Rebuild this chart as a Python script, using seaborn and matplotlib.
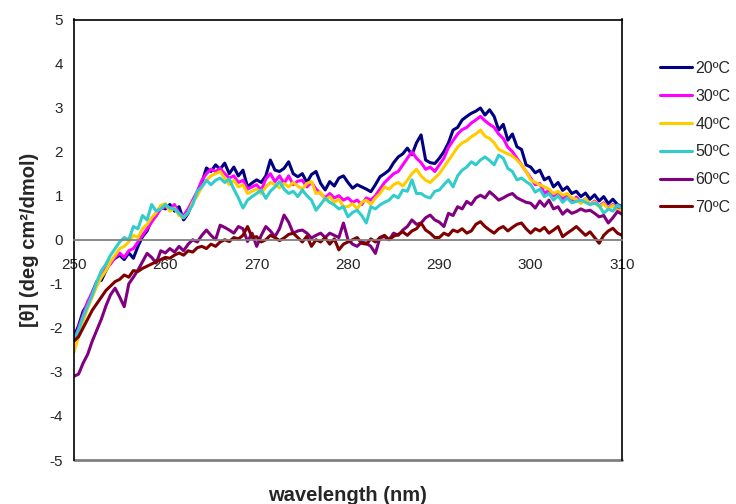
import numpy as np
import pandas as pd
import matplotlib
matplotlib.use("Agg")
import matplotlib.pyplot as plt
import seaborn as sns

# CD spectra: wavelength grid (nm), 0.5 nm steps
wavelength = np.arange(250.0, 310.01, 0.5)

temps = ["20ºC", "30ºC", "40ºC", "50ºC", "60ºC", "70ºC"]
colors = ["#000080", "#FF00FF", "#FFCC00", "#33CCCC", "#800080", "#800000"]

theta_20 = [
    -2.20, -1.95, -1.62, -1.45, -1.20, -0.95, -0.92, -0.70, -0.50, -0.42,
    -0.35, -0.45, -0.30, -0.42, -0.15, 0.07, 0.20, 0.45, 0.55, 0.75,
    0.70, 0.80, 0.65, 0.75, 0.45, 0.60, 0.85, 1.06, 1.30, 1.63,
    1.55, 1.70, 1.60, 1.74, 1.50, 1.65, 1.45, 1.58, 1.20, 1.29,
    1.36, 1.30, 1.45, 1.81, 1.58, 1.55, 1.62, 1.77, 1.50, 1.43,
    1.50, 1.30, 1.48, 1.55, 1.28, 1.13, 1.32, 1.22, 1.40, 1.45,
    1.30, 1.17, 1.25, 1.20, 1.15, 1.09, 1.25, 1.43, 1.50, 1.58,
    1.75, 1.88, 1.95, 2.08, 1.93, 2.20, 2.38, 1.81, 1.75, 1.73,
    1.85, 2.00, 2.20, 2.49, 2.55, 2.72, 2.80, 2.87, 2.92, 2.99,
    2.83, 2.95, 2.80, 2.49, 2.62, 2.26, 2.40, 2.11, 2.05, 1.70,
    1.65, 1.52, 1.58, 1.36, 1.42, 1.20, 1.30, 1.12, 1.20, 1.05,
    1.10, 0.98, 1.06, 0.92, 1.02, 0.88, 0.98, 0.82, 0.92, 0.80,
    0.75,
]
theta_30 = [
    -2.30, -2.00, -1.70, -1.40, -1.20, -0.95, -0.85, -0.65, -0.55, -0.40,
    -0.30, -0.40, -0.25, -0.20, -0.05, 0.10, 0.25, 0.40, 0.55, 0.70,
    0.75, 0.70, 0.80, 0.60, 0.55, 0.70, 0.90, 1.10, 1.35, 1.50,
    1.60, 1.55, 1.62, 1.50, 1.40, 1.45, 1.30, 1.35, 1.15, 1.20,
    1.25, 1.12, 1.38, 1.50, 1.32, 1.45, 1.28, 1.45, 1.25, 1.33,
    1.35, 1.20, 1.30, 1.15, 1.05, 0.95, 1.05, 0.95, 1.00, 0.90,
    0.95, 0.85, 0.90, 0.80, 0.95, 0.90, 1.00, 1.15, 1.30, 1.40,
    1.50, 1.55, 1.70, 1.85, 2.00, 1.85, 1.75, 1.60, 1.65, 1.55,
    1.70, 1.85, 2.10, 2.25, 2.40, 2.50, 2.55, 2.65, 2.72, 2.80,
    2.70, 2.62, 2.55, 2.40, 2.30, 2.10, 2.00, 1.85, 1.70, 1.55,
    1.40, 1.25, 1.28, 1.05, 1.12, 1.00, 1.08, 0.92, 1.00, 0.86,
    0.97, 0.85, 0.93, 0.80, 0.88, 0.76, 0.84, 0.72, 0.80, 0.70,
    0.70,
]
theta_40 = [
    -2.55, -2.20, -1.85, -1.55, -1.30, -1.05, -0.85, -0.70, -0.50, -0.35,
    -0.20, -0.15, -0.05, 0.10, 0.05, 0.25, 0.35, 0.50, 0.62, 0.78,
    0.82, 0.65, 0.72, 0.55, 0.50, 0.62, 0.85, 1.00, 1.20, 1.35,
    1.45, 1.50, 1.55, 1.40, 1.25, 1.35, 1.20, 1.25, 1.05, 1.10,
    1.15, 1.05, 1.20, 1.30, 1.25, 1.18, 1.28, 1.20, 1.30, 1.22,
    1.15, 1.28, 1.32, 1.05, 1.08, 0.90, 0.98, 0.85, 0.92, 0.75,
    0.75, 0.82, 0.70, 0.85, 0.90, 0.80, 0.95, 1.05, 1.20, 1.15,
    1.25, 1.30, 1.22, 1.35, 1.50, 1.60, 1.45, 1.35, 1.30, 1.40,
    1.50, 1.65, 1.80, 1.95, 2.10, 2.20, 2.25, 2.34, 2.40, 2.49,
    2.35, 2.30, 2.20, 2.05, 2.00, 1.95, 1.90, 1.81, 1.70, 1.55,
    1.36, 1.30, 1.25, 1.20, 1.15, 1.05, 1.10, 1.01, 1.05, 0.95,
    0.92, 0.82, 0.93, 0.80, 0.86, 0.74, 0.82, 0.70, 0.78, 0.66,
    0.68,
]
theta_50 = [
    -2.30, -2.05, -1.75, -1.50, -1.25, -0.95, -0.70, -0.55, -0.35, -0.20,
    -0.05, 0.05, 0.00, 0.30, 0.25, 0.55, 0.45, 0.80, 0.65, 0.70,
    0.80, 0.72, 0.70, 0.60, 0.50, 0.62, 0.80, 1.10, 1.20, 1.35,
    1.25, 1.35, 1.40, 1.30, 1.38, 1.15, 0.95, 0.72, 0.90, 0.98,
    1.05, 1.13, 0.94, 1.10, 1.20, 1.32, 1.15, 1.05, 1.10, 0.98,
    1.13, 1.00, 0.90, 0.67, 0.80, 0.94, 0.85, 0.79, 0.70, 0.75,
    0.52, 0.62, 0.67, 0.55, 0.38, 0.75, 0.70, 0.79, 0.85, 0.90,
    1.01, 0.95, 1.13, 1.10, 1.36, 1.05, 1.05, 0.98, 0.95, 1.10,
    1.13, 1.25, 1.36, 1.20, 1.45, 1.58, 1.65, 1.77, 1.70, 1.81,
    1.88, 1.80, 1.70, 1.92, 1.85, 1.62, 1.55, 1.36, 1.40, 1.32,
    1.25, 1.08, 1.15, 0.98, 1.05, 0.90, 1.00, 0.85, 0.95, 0.84,
    0.87, 0.90, 0.85, 0.80, 0.83, 0.78, 0.60, 0.70, 0.65, 0.79,
    0.72,
]
theta_60 = [
    -3.10, -3.05, -2.80, -2.60, -2.30, -2.05, -1.80, -1.50, -1.25, -1.10,
    -1.30, -1.52, -1.00, -0.85, -0.69, -0.50, -0.31, -0.40, -0.53, -0.25,
    -0.30, -0.20, -0.28, -0.15, -0.25, -0.10, 0.00, -0.05, 0.10, 0.22,
    0.10, 0.00, 0.33, 0.28, 0.22, 0.15, 0.30, 0.25, -0.04, 0.15,
    -0.15, 0.10, 0.30, 0.20, 0.07, 0.25, 0.56, 0.40, 0.15, 0.20,
    0.22, 0.15, 0.04, 0.10, 0.15, 0.05, 0.15, 0.10, 0.05, 0.38,
    0.00, -0.10, -0.15, -0.05, -0.08, -0.15, -0.31, 0.05, 0.07, 0.00,
    0.15, 0.10, 0.22, 0.30, 0.45, 0.35, 0.38, 0.50, 0.56, 0.45,
    0.40, 0.30, 0.60, 0.55, 0.75, 0.70, 0.87, 0.80, 0.95, 1.01,
    0.95, 1.09, 1.00, 0.90, 0.95, 1.01, 1.05, 0.95, 0.90, 0.85,
    0.83, 0.72, 0.88, 0.76, 0.90, 0.70, 0.75, 0.58, 0.68, 0.60,
    0.64, 0.70, 0.65, 0.67, 0.60, 0.52, 0.55, 0.38, 0.50, 0.64,
    0.58,
]
theta_70 = [
    -2.30, -2.20, -2.00, -1.80, -1.60, -1.45, -1.30, -1.15, -1.05, -0.95,
    -0.90, -0.80, -0.85, -0.70, -0.72, -0.65, -0.60, -0.55, -0.50, -0.45,
    -0.40, -0.42, -0.35, -0.30, -0.35, -0.25, -0.28, -0.18, -0.15, -0.20,
    -0.10, -0.15, -0.05, 0.00, -0.04, 0.05, 0.02, 0.10, 0.30, 0.05,
    0.07, -0.05, 0.00, 0.10, 0.05, -0.02, 0.04, 0.12, 0.15, 0.05,
    -0.05, 0.08, -0.15, 0.00, -0.05, 0.05, -0.10, 0.02, -0.23, -0.10,
    -0.05, 0.00, 0.05, -0.08, -0.10, 0.02, -0.05, 0.05, 0.10, 0.00,
    0.08, 0.12, 0.18, 0.10, 0.20, 0.25, 0.38, 0.22, 0.15, 0.05,
    0.05, 0.15, 0.10, 0.22, 0.18, 0.25, 0.15, 0.20, 0.35, 0.41,
    0.30, 0.22, 0.15, 0.25, 0.30, 0.20, 0.28, 0.35, 0.38, 0.25,
    0.15, 0.25, 0.20, 0.28, 0.15, 0.22, 0.30, 0.07, 0.15, 0.22,
    0.30, 0.20, 0.10, 0.18, 0.05, -0.08, 0.10, 0.20, 0.26, 0.15,
    0.10,
]

series = [theta_20, theta_30, theta_40, theta_50, theta_60, theta_70]
df = pd.concat(
    [pd.DataFrame({"wavelength": wavelength, "theta": vals, "temp": t})
     for t, vals in zip(temps, series)],
    ignore_index=True,
)

sns.set_style("white")
plt.rcParams["font.family"] = ["Liberation Sans", "DejaVu Sans"]
plt.rcParams["axes.unicode_minus"] = False

fig = plt.figure(figsize=(7.36, 5.04), dpi=100)
ax = fig.add_axes([74 / 736, 1 - 460 / 504, 548 / 736, 440.5 / 504])

sns.lineplot(data=df, x="wavelength", y="theta", hue="temp",
             hue_order=temps, palette=colors, linewidth=2.2,
             ax=ax, legend=False)

ax.set_xlim(250, 310)
ax.set_ylim(-5, 5)
ax.set_xticks(np.arange(250, 311, 10))
ax.set_yticks(np.arange(-5, 6, 1))

# x axis crosses at zero, plot frame drawn around the area
ax.spines["bottom"].set_position(("data", 0))
ax.spines["bottom"].set_color("#808080")
ax.spines["bottom"].set_linewidth(1.3)
for side in ["left", "top", "right"]:
    ax.spines[side].set_color("black")
    ax.spines[side].set_linewidth(1.2)
ax.plot([0, 1], [0, 0], transform=ax.transAxes, color="#808080",
        lw=2.0, clip_on=False, zorder=0)

ax.tick_params(axis="x", direction="out", length=4, width=1.2,
               color="#808080", labelsize=11, pad=9)
ax.tick_params(axis="y", direction="out", length=5, width=1.2,
               color="black", labelsize=11, pad=3)

ax.set_xlabel("wavelength (nm)", fontsize=14.5, fontweight="bold")
ax.xaxis.set_label_coords(0.5, -0.058)
ax.set_ylabel("[θ] (deg cm²/dmol)", fontsize=14.5, fontweight="bold")
ax.yaxis.set_label_coords(-0.063, 0.5)

handles = [plt.Line2D([], [], color=c, lw=2.2) for c in colors]
fig.legend(handles, temps, loc="upper left",
           bbox_to_anchor=(660 / 736, 1 - 61 / 504), frameon=False,
           fontsize=11.5, handlelength=2.0, handletextpad=0.2,
           labelspacing=0.8, borderpad=0, borderaxespad=0)

fig.savefig("out.png", dpi=100)
